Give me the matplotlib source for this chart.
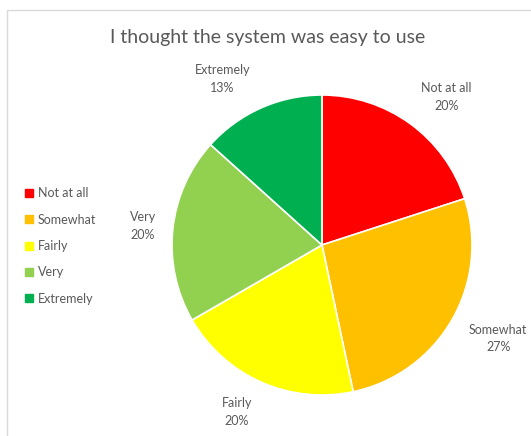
import numpy as np
import matplotlib.pyplot as plt
from matplotlib.patches import Rectangle
from matplotlib.lines import Line2D

# Survey responses (counts out of 15)
categories = ['Not at all', 'Somewhat', 'Fairly', 'Very', 'Extremely']
counts = [3, 4, 3, 3, 2]
colors = ['#FF0000', '#FFC000', '#FFFF00', '#92D050', '#00B050']
# label placement: radial distance and angular nudge (degrees, clockwise)
label_dist = [1.29, 1.33, 1.25, 1.20, 1.29]
label_nudge = [4, -2, 3, 0, -7]

plt.rcParams['font.family'] = ['Lato', 'DejaVu Sans']
text_color = '#595959'

W, H = 531, 436
fig = plt.figure(figsize=(W / 100, H / 100), dpi=100)

# chart area frame
fig.patches.append(Rectangle((7 / W, -0.1), 1.2, 1.1 - 10 / H, transform=fig.transFigure,
                             fill=False, edgecolor='#D9D9D9', linewidth=1))

fig.text(268 / W, 1 - 37 / H, 'I thought the system was easy to use',
         ha='center', va='center', fontsize=14, color=text_color)

# pie axes: centre (322, 245), radius 150 px
cx, cy, r = 322, 245, 150
ax = fig.add_axes([(cx - r) / W, (H - cy - r) / H, 2 * r / W, 2 * r / H])
total = sum(counts)
wedges, _ = ax.pie(counts, colors=colors, startangle=90, counterclock=False,
                   wedgeprops=dict(edgecolor='white', linewidth=1.2))
ax.set_xlim(-1, 1)
ax.set_ylim(-1, 1)
ax.set_aspect('equal')
ax.axis('off')

# category labels with percentages outside the wedges
for w, name, n, d, nudge in zip(wedges, categories, counts, label_dist, label_nudge):
    mid = np.deg2rad((w.theta1 + w.theta2) / 2 - nudge)
    ax.text(d * np.cos(mid), d * np.sin(mid), f'{name}\n{n / total:.0%}',
            ha='center', va='center', fontsize=9, color=text_color,
            linespacing=1.55, clip_on=False)

handles = [Line2D([], [], marker='s', linestyle='', markersize=6,
                  markerfacecolor=c, markeredgecolor=c) for c in colors]
fig.legend(handles, categories, loc='upper left', bbox_to_anchor=(14 / W, 1 - 176 / H),
           frameon=False, fontsize=9, labelcolor=text_color, handlelength=0.6,
           handletextpad=0.4, labelspacing=1.15)

fig.savefig('out.png', dpi=100)
